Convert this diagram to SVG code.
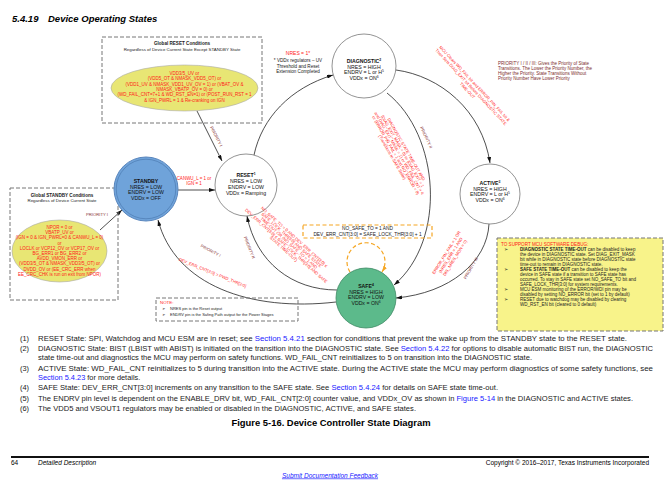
<svg xmlns="http://www.w3.org/2000/svg" width="665" height="480" viewBox="0 0 665 480">
<defs>
<style>
text{font-family:"Liberation Sans",Arial,Helvetica,sans-serif}
.c{text-anchor:middle}
.b{font-weight:bold}
.nt{font-size:5.2px;text-anchor:middle;fill:#111}
.red{fill:#ff1a1a}
.pri{fill:#8b3a3a;font-size:4.2px;text-anchor:middle}
.gbox{fill:none;stroke:#777;stroke-width:1;stroke-dasharray:4 2}
.cond{font-size:4.5px;text-anchor:middle;fill:#ff1a1a}
.conn{fill:none;stroke:#222;stroke-width:0.8}
.fn{font-size:7.4px;fill:#1a1a1a}
.lnk{fill:#2020ff}
.lab{font-size:4.2px;text-anchor:middle;fill:#ff1a1a}
.dbg{font-size:4.5px;fill:#222}
.node{fill:#fff;stroke:#777;stroke-width:0.8}
</style>
<marker id="arr" viewBox="0 0 6 4" refX="6" refY="2" markerWidth="6" markerHeight="4" orient="auto" markerUnits="userSpaceOnUse"><path d="M0,0 L6,2 L0,4 z" fill="#111"/></marker>
<marker id="arrO" viewBox="0 0 6 4" refX="6" refY="2" markerWidth="6" markerHeight="4" orient="auto" markerUnits="userSpaceOnUse"><path d="M0,0 L6,2 L0,4 z" fill="#f5a623"/></marker>
</defs>
<rect width="665" height="480" fill="#fff"/>

<text x="12" y="22" font-size="9.5" font-weight="bold" font-style="italic">5.4.19</text>
<text x="48" y="22" font-size="9.5" font-weight="bold" font-style="italic">Device Operating States</text>

<g id="connectors">
<path class="conn" d="M197,111 L222,161" marker-end="url(#arr)"/>
<path class="conn" d="M100,230 L122,210" marker-end="url(#arr)"/>
<path class="conn" d="M178,190 L215,190" marker-end="url(#arr)"/>
<path class="conn" d="M254,155 C262,118 290,88 333,75" marker-end="url(#arr)"/>
<path class="conn" d="M396,70 C440,76 482,110 490,163" marker-end="url(#arr)"/>
<path class="conn" d="M387,93 C440,135 447,240 394,285" marker-end="url(#arr)"/>
<path class="conn" d="M489,224 C487,262 450,293 396,298" marker-end="url(#arr)"/>
<path class="conn" d="M337,290 C292,290 256,262 247,216" marker-end="url(#arr)"/>
<path class="conn" d="M336,302 C250,312 175,285 158,220" marker-end="url(#arr)"/>
<path d="M350,272 A19,19 0 1 1 382,272" fill="none" stroke="#f5a623" stroke-width="1.2" stroke-dasharray="4 2.5" marker-end="url(#arrO)"/>
</g>

<g id="global-reset">
<rect class="gbox" x="102" y="37" width="160" height="86"/>
<text class="c b" x="182" y="45" font-size="4.6" fill="#222">Global RESET Conditions</text>
<text class="c" x="182" y="51" font-size="4.4" fill="#222">Regardless of Device Current State Except STANDBY State</text>
<ellipse cx="184.5" cy="88" rx="73.5" ry="23" fill="#e8e674" stroke="#aaa" stroke-width="0.6"/>
<text class="cond" font-size="4.6"><tspan x="184.5" y="75">VDD3/5_UV or</tspan><tspan x="184.5" y="80.3">(VDD5_OT &amp; NMASK_VDD5_OT) or</tspan><tspan x="184.5" y="85.6">(VDD1_UV &amp; NMASK_VDD1_UV_OV = 1) or (VBAT_OV &amp;</tspan><tspan x="184.5" y="90.9">NMASK_VBATP_OV = 0) or</tspan><tspan x="184.5" y="96.2">(WD_FAIL_CNT=7+1 &amp; WD_RST_EN=1) or (POST_RUN_RST = 1</tspan><tspan x="184.5" y="101.5">&amp; IGN_PWRL = 1 &amp; Re-cranking on IGN</tspan></text>
<text class="pri" transform="translate(215,137) rotate(63)">PRIORITY I</text>
</g>

<g id="global-standby">
<rect class="gbox" x="10" y="188" width="108" height="112"/>
<text class="c b" x="62" y="196.5" font-size="4.6" fill="#222">Global STANDBY Conditions</text>
<text class="c" x="62" y="202" font-size="4.4" fill="#222">Regardless of Device Current State</text>
<ellipse cx="59.5" cy="251" rx="47.5" ry="31" fill="#e8e674" stroke="#aaa" stroke-width="0.6"/>
<text class="cond" font-size="4.3"><tspan x="59.5" y="229">NPOR = 0 or</tspan><tspan x="59.5" y="234.2">VBATP_UV or</tspan><tspan x="59.5" y="239.4">(IGN = 0 &amp; IGN_PWRL=0 &amp; CANWU_L = 0)</tspan><tspan x="59.5" y="244.6">or</tspan><tspan x="59.5" y="249.8">LOCLK or VCP12_OV or VCP17_OV or</tspan><tspan x="59.5" y="255">BG_ERR1 or BG_ERR2 or</tspan><tspan x="59.5" y="260.2">AVDD_VMON_ERR or</tspan><tspan x="59.5" y="265.4">(VDD3/5_OT &amp; NMASK_VDD3/5_OT) or</tspan><tspan x="59.5" y="270.6">DVDD_OV or (EE_CRC_ERR when</tspan><tspan x="59.5" y="275.8">EE_CRC_CHK is run on exit from NPOR)</tspan></text>
<text class="pri" x="97" y="216">PRIORITY I</text>
</g>

<g id="standby">
<circle cx="146" cy="189" r="32" fill="#6fa3da" stroke="#5a86bd" stroke-width="1"/>
<circle cx="146" cy="189" r="29.8" fill="none" stroke="#3f6aa0" stroke-width="0.5"/>
<text class="nt"><tspan class="b" x="146" y="183">STANDBY</tspan><tspan x="146" y="188.5">NRES = LOW</tspan><tspan x="146" y="194">ENDRV = LOW</tspan><tspan x="146" y="199.5">VDDx = OFF</tspan></text>
</g>
<text class="cond" font-size="4.8"><tspan x="194" y="180">CANWU_L = 1 or</tspan><tspan x="194" y="185">IGN = 1</tspan></text>

<g id="reset">
<circle class="node" cx="246" cy="185" r="31"/>
<text class="nt"><tspan class="b" x="246" y="177">RESET<tspan font-size="3.4" dy="-1.8">1</tspan></tspan><tspan x="246" y="183">NRES = LOW</tspan><tspan x="246" y="189">ENDRV = LOW</tspan><tspan x="246" y="194.5">VDDx = Ramping</tspan></text>
</g>

<g id="diagnostic">
<circle class="node" cx="364" cy="66" r="32"/>
<text class="nt"><tspan class="b" x="364" y="63">DIAGNOSTIC<tspan font-size="3.4" dy="-1.8">2</tspan></tspan><tspan x="364" y="68.5">NRES = HIGH</tspan><tspan x="364" y="74">ENDRV = L or H<tspan font-size="3.4" dy="-1.8">5</tspan></tspan><tspan x="364" y="79.5">VDDx = ON<tspan font-size="3.4" dy="-1.8">6</tspan></tspan></text>
</g>

<g id="active">
<circle class="node" cx="490" cy="194" r="30"/>
<text class="nt"><tspan class="b" x="490" y="185">ACTIVE<tspan font-size="3.4" dy="-1.8">3</tspan></tspan><tspan x="490" y="190.5">NRES = HIGH</tspan><tspan x="490" y="196">ENDRV = L or H<tspan font-size="3.4" dy="-1.8">5</tspan></tspan><tspan x="490" y="201.5">VDDx = ON<tspan font-size="3.4" dy="-1.8">6</tspan></tspan></text>
</g>

<g id="safe">
<circle cx="366" cy="298" r="30" fill="#5cba8b" stroke="#3f8a64" stroke-width="0.8"/>
<text class="nt"><tspan class="b" x="366" y="288">SAFE<tspan font-size="3.4" dy="-1.8">4</tspan></tspan><tspan x="366" y="293.5">NRES = HIGH</tspan><tspan x="366" y="299">ENDRV = LOW</tspan><tspan x="366" y="304.5">VDDx = ON<tspan font-size="3.4" dy="-1.8">6</tspan></tspan></text>
</g>

<g id="labels">
<text class="c red" x="298" y="55" font-size="5">NRES = 1*</text>
<text class="c" font-size="4.6" fill="#222"><tspan x="298" y="62">* VDDx regulators – UV</tspan><tspan x="298" y="67.5">Threshold and Reset</tspan><tspan x="298" y="73">Extension Completed</tspan></text>
<text class="lab" transform="translate(470,88) rotate(47)"><tspan x="0" y="-5">MCU Clears WD_FAIL bit and ERROR_PIN_FAIL bit &amp;</tspan><tspan x="0" y="0">Then Sets DIAG_EXIT bit Before DIAGNOSTIC STATE</tspan><tspan x="0" y="5">TIME-OUT</tspan></text>
<text class="lab" font-size="4" transform="translate(398,154) rotate(60)"><tspan x="0" y="-8">DIAGNOSTIC STATE TIME-OUT AND</tspan><tspan x="0" y="-4">(DIAG_EXIT_MASK = 0) or (DIAG_EXIT = 1</tspan><tspan x="0" y="0">and DIAG_EXIT_MASK = 1) or WD_FAIL_CNT &gt; 4</tspan><tspan x="0" y="4">or (ERROR_PIN_FAIL = 1 and NO_ERROR = 0)</tspan><tspan x="0" y="8">(Transitions to SAFE State)</tspan></text>
<text class="lab" font-size="4" transform="translate(288,244) rotate(42)"><tspan x="0" y="-8">NO_SAFE_TO = 0 AND DEV_ERR_CNT[3:0] ≤</tspan><tspan x="0" y="-4">SAFE_LOCK_THR[3:0] AND SAFE STATE</tspan><tspan x="0" y="0">TIME-OUT OR (NO_SAFE_TO = 1 AND</tspan><tspan x="0" y="4">DEV_ERR_CNT[3:0] ≤ SAFE_LOCK_THR[3:0] AND SAFE</tspan><tspan x="0" y="8">STATE TIME-OUT)</tspan></text>
<text class="lab" transform="translate(452,256) rotate(-58)"><tspan x="0" y="-5">ERROR_PIN_FAIL = 1 OR</tspan><tspan x="0" y="0">(NRES_ERR = 1 AND</tspan><tspan x="0" y="5">DIS_NRES_MON = 0)</tspan></text>
<text class="lab" transform="translate(212,274) rotate(22)">DEV_ERR_CNT[3:0] &gt; PWD_THR[3:0]</text>
<text class="pri" transform="translate(425,138) rotate(65)">PRIORITY II</text>
<text class="pri" transform="translate(472,269) rotate(-60)">PRIORITY III</text>
<text class="pri" transform="translate(248,248) rotate(68)">PRIORITY II</text>
<text class="pri" transform="translate(210,252) rotate(28)">PRIORITY I</text>
<text font-size="4.5" fill="#7b2c2c"><tspan x="498" y="64.5">PRIORITY I / II / III: Gives the Priority of State</tspan><tspan x="498" y="69.5">Transitions. The Lower the Priority Number, the</tspan><tspan x="498" y="75">Higher the Priority. State Transitions Without</tspan><tspan x="498" y="80">Priority Number Have Lower Priority</tspan></text>
</g>

<g id="safe-loop-cond">
<rect x="303" y="225" width="129" height="13" fill="none" stroke="#f5a623" stroke-width="1.2" stroke-dasharray="4 2.5"/>
<text class="c" font-size="4.8" fill="#222"><tspan x="367.5" y="230">NO_SAFE_TO = 1 AND</tspan><tspan x="367.5" y="236">DEV_ERR_CNT[3:0] = SAFE_LOCK_THR[3:0] + 1</tspan></text>
</g>

<g id="note">
<rect class="gbox" x="156" y="298" width="142" height="23"/>
<text x="160" y="304" font-size="4.4" class="red">NOTE:</text>
<text font-size="4" fill="#222"><tspan x="162" y="309.5">➢</tspan><tspan x="170" y="309.5">NRES pin is the Reset output</tspan><tspan x="162" y="315.5">➢</tspan><tspan x="170" y="315.5">ENDRV pin is the Safing Path output for the Power Stages</tspan></text>
</g>

<g id="debug-box">
<rect x="497" y="238" width="166" height="93" fill="#f8f38a" stroke="#777" stroke-width="1" stroke-dasharray="4 2"/>
<text x="501" y="245.7" font-size="4.6" class="red">TO SUPPORT MCU SOFTWARE DEBUG:</text>
<text class="dbg"><tspan x="504" y="250.7">➢</tspan><tspan x="520" y="250.7"><tspan class="b">DIAGNOSTIC STATE TIME-OUT</tspan> can be disabled to keep</tspan><tspan x="520" y="255.7">the device in DIAGNOSTIC state.  Set DIAG_EXIT_MASK</tspan><tspan x="520" y="260.7">bit while in DIAGNOSTIC state before DIAGNOSTIC state</tspan><tspan x="520" y="265.5">time-out to remain in DIAGNOSTIC state.</tspan><tspan x="504" y="270.5">➢</tspan><tspan x="520" y="270.5"><tspan class="b">SAFE STATE TIME-OUT</tspan> can be disabled to keep the</tspan><tspan x="520" y="275.5">device in SAFE state if a transition to SAFE state has</tspan><tspan x="520" y="280.5">occurred. To stay in SAFE state set NO_SAFE_TO bit and</tspan><tspan x="520" y="285.5">SAFE_LOCK_THR[3:0] for system requirements.</tspan><tspan x="504" y="290.7">➢</tspan><tspan x="520" y="290.7">MCU ESM monitoring of the ERROR/WDI pin may be</tspan><tspan x="520" y="295.5">disabled by setting NO_ERROR bit (set to 1 by default)</tspan><tspan x="504" y="300.7">➢</tspan><tspan x="520" y="300.7">RESET due to watchdog may be disabled by clearing</tspan><tspan x="520" y="305.5">WD_RST_EN bit (cleared to 0 default)</tspan></text>
</g>

<g id="footnotes">
<text class="fn" x="20" y="340.5">(1)</text>
<text class="fn" x="38" y="340.5" textLength="589" lengthAdjust="spacingAndGlyphs">RESET State: SPI, Watchdog and MCU ESM are in reset; see <tspan class="lnk">Section 5.4.21</tspan> section for conditions that prevent the wake up from the STANDBY state to the RESET state.</text>
<text class="fn" x="20" y="350.5">(2)</text>
<text class="fn" x="38" y="350.5" textLength="615" lengthAdjust="spacingAndGlyphs">DIAGNOSTIC State: BIST (LBIST with ABIST) is initiated on the transition into the DIAGNOSTIC state. See <tspan class="lnk">Section 5.4.22</tspan> for options to disable automatic BIST run, the DIAGNOSTIC</text>
<text class="fn" x="38" y="360" textLength="494" lengthAdjust="spacingAndGlyphs">state time-out and diagnostics the MCU may perform on safety functions. WD_FAIL_CNT reinitializes to 5 on transition into the DIAGNOSTIC state.</text>
<text class="fn" x="20" y="370.5">(3)</text>
<text class="fn" x="38" y="370.5" textLength="615" lengthAdjust="spacingAndGlyphs">ACTIVE State: WD_FAIL_CNT reinitializes to 5 during transition into the ACTIVE state. During the ACTIVE state the MCU may perform diagnostics of some safety functions, see</text>
<text class="fn" x="38" y="379.5"><tspan class="lnk">Section 5.4.23</tspan> for more details.</text>
<text class="fn" x="20" y="390">(4)</text>
<text class="fn" x="38" y="390" textLength="460" lengthAdjust="spacingAndGlyphs">SAFE State: DEV_ERR_CNT[3:0] increments on any transition to the SAFE state. See <tspan class="lnk">Section 5.4.24</tspan> for details on SAFE state time-out.</text>
<text class="fn" x="20" y="400.5">(5)</text>
<text class="fn" x="38" y="400.5" textLength="595" lengthAdjust="spacingAndGlyphs">The ENDRV pin level is dependent on the ENABLE_DRV bit, WD_FAIL_CNT[2:0] counter value, and VDDx_OV as shown in <tspan class="lnk">Figure 5-14</tspan> in the DIAGNOSTIC and ACTIVE states.</text>
<text class="fn" x="20" y="410.5">(6)</text>
<text class="fn" x="38" y="410.5" textLength="378" lengthAdjust="spacingAndGlyphs">The VDD5 and VSOUT1 regulators may be enabled or disabled in the DIAGNOSTIC, ACTIVE, and SAFE states.</text>
<text x="331" y="426" class="c b" font-size="8.6" textLength="199" lengthAdjust="spacingAndGlyphs">Figure 5-16. Device Controller State Diagram</text>
</g>

<g id="footer">
<line x1="11" y1="457" x2="649" y2="457" stroke="#111" stroke-width="2"/>
<text x="11" y="465" font-size="6.5">64</text>
<text x="38" y="465" font-size="6.5" font-style="italic">Detailed Description</text>
<text x="649" y="465" font-size="6.5" text-anchor="end">Copyright © 2016–2017, Texas Instruments Incorporated</text>
<text x="330" y="477.5" font-size="6.5" font-style="italic" text-anchor="middle" fill="#2020ff" text-decoration="underline">Submit Documentation Feedback</text>
</g>
</svg>
